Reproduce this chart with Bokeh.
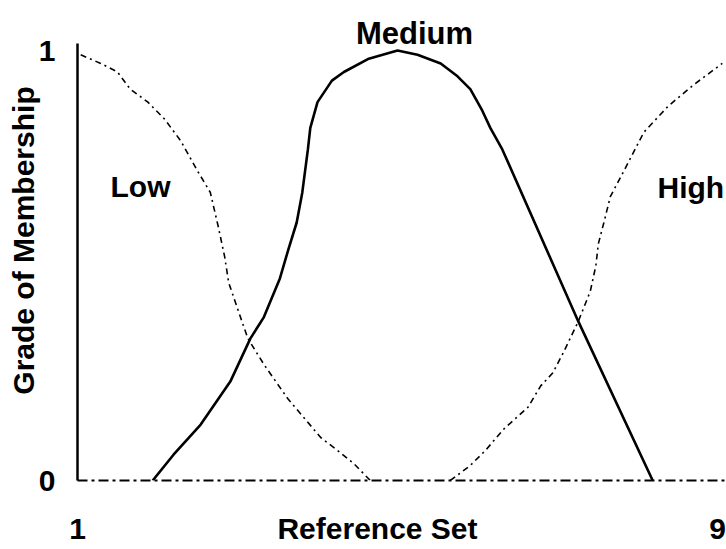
from bokeh.plotting import figure
from bokeh.models import Range1d, FixedTicker
from bokeh.embed import file_html
from bokeh.resources import INLINE

# ---- data ----
low_x = [1.04, 1.29, 1.5, 1.66, 1.88, 2.09, 2.29, 2.5, 2.66, 2.76, 2.84, 2.89,
         3.0, 3.13, 3.33, 3.63, 4.04, 4.25, 4.45, 4.66]
low_y = [0.99, 0.97, 0.95, 0.91, 0.88, 0.84, 0.79, 0.72, 0.67, 0.59, 0.52, 0.46,
         0.40, 0.33, 0.27, 0.19, 0.10, 0.07, 0.04, 0.0]

medium_x = [1.94, 2.2, 2.54, 2.91, 3.16, 3.33, 3.53, 3.64, 3.74, 3.81, 3.88, 3.91,
            4.0, 4.18, 4.33, 4.63, 5.0, 5.25, 5.54, 5.75, 5.91, 6.06, 6.16, 6.31,
            7.26, 8.19]
medium_y = [0.0, 0.06, 0.13, 0.23, 0.33, 0.38, 0.47, 0.54, 0.60, 0.67, 0.77, 0.82,
            0.88, 0.93, 0.95, 0.98, 1.0, 0.99, 0.97, 0.94, 0.91, 0.86, 0.82, 0.77,
            0.37, 0.0]

high_x = [5.66, 5.91, 6.1, 6.33, 6.63, 6.79, 6.94, 7.08, 7.26, 7.41, 7.48, 7.51,
          7.58, 7.66, 7.83, 8.08, 8.38, 8.7, 9.06]
high_y = [0.0, 0.035, 0.07, 0.12, 0.17, 0.22, 0.25, 0.30, 0.37, 0.44, 0.50, 0.55,
          0.60, 0.66, 0.72, 0.81, 0.87, 0.92, 0.97]

x_ticks = [1, 9]
y_ticks = [0, 1]

set_names = ["Low", "Medium", "High"]
x_title = "Reference Set"
y_title = "Grade of Membership"

# ---- figure ----
FONT = "Liberation Sans"
X_MAX = 9.1125
Y_MAX = 1.1163
X_TITLE_POS = 4.75  # where the x title sits along the axis (same row as ticks)

p = figure(width=726, height=549, output_backend="svg", toolbar_location=None,
           x_range=Range1d(1, X_MAX), y_range=Range1d(0, Y_MAX),
           min_border_left=77, min_border_right=0, min_border_top=0,
           min_border_bottom=69)
p.outline_line_color = None
p.grid.visible = False
p.background_fill_color = "white"
p.border_fill_color = "white"

for ax in (p.xaxis[0], p.yaxis[0]):
    ax.major_tick_out = 0
    ax.major_tick_in = 0
    ax.minor_tick_out = 0
    ax.minor_tick_in = 0
    ax.axis_line_color = "black"
    ax.major_label_text_font = FONT
    ax.major_label_text_font_style = "bold"
    ax.major_label_text_font_size = "30px"
    ax.major_label_text_color = "black"

# x axis: the title is printed on the same row as the "1" and "9" labels
p.xaxis.ticker = FixedTicker(ticks=x_ticks + [X_TITLE_POS])
p.xaxis.major_label_overrides = {X_TITLE_POS: x_title}
p.xaxis.bounds = (1, X_MAX)
p.xaxis.axis_line_dash = "10 4 3 4"
p.xaxis.axis_line_width = 2
p.xaxis.major_label_standoff = 31

p.yaxis.ticker = FixedTicker(ticks=y_ticks)
p.yaxis.bounds = (0, 1.016)
p.yaxis.axis_line_width = 2.5
p.yaxis.major_label_standoff = 22
p.yaxis.axis_label = y_title
p.yaxis.axis_label_text_font = FONT
p.yaxis.axis_label_text_font_style = "bold"
p.yaxis.axis_label_text_font_size = "30px"
p.yaxis.axis_label_text_color = "black"
p.yaxis.axis_label_standoff = -4

# ---- curves ----
p.line(low_x, low_y, line_color="black", line_width=1.6, line_dash="6 4 2 4")
p.line(medium_x, medium_y, line_color="black", line_width=2.6)
p.line(high_x, high_y, line_color="black", line_width=1.6, line_dash="6 4 2 4")

# ---- set names ----
p.text(x=[1.4125], y=[0.684], text=[set_names[0]], text_font={"value": FONT},
       text_font_style="bold", text_font_size="30px", text_color="black",
       text_align="left", text_baseline="alphabetic")
p.text(x=[5.2125], y=[1.0395], text=[set_names[1]], text_font={"value": FONT},
       text_font_style="bold", text_font_size="31px", text_color="black",
       text_align="center", text_baseline="alphabetic")
p.text(x=[8.25], y=[0.681], text=[set_names[2]], text_font={"value": FONT},
       text_font_style="bold", text_font_size="30px", text_color="black",
       text_align="left", text_baseline="alphabetic")

open("out.html", "w").write(file_html(p, INLINE))
